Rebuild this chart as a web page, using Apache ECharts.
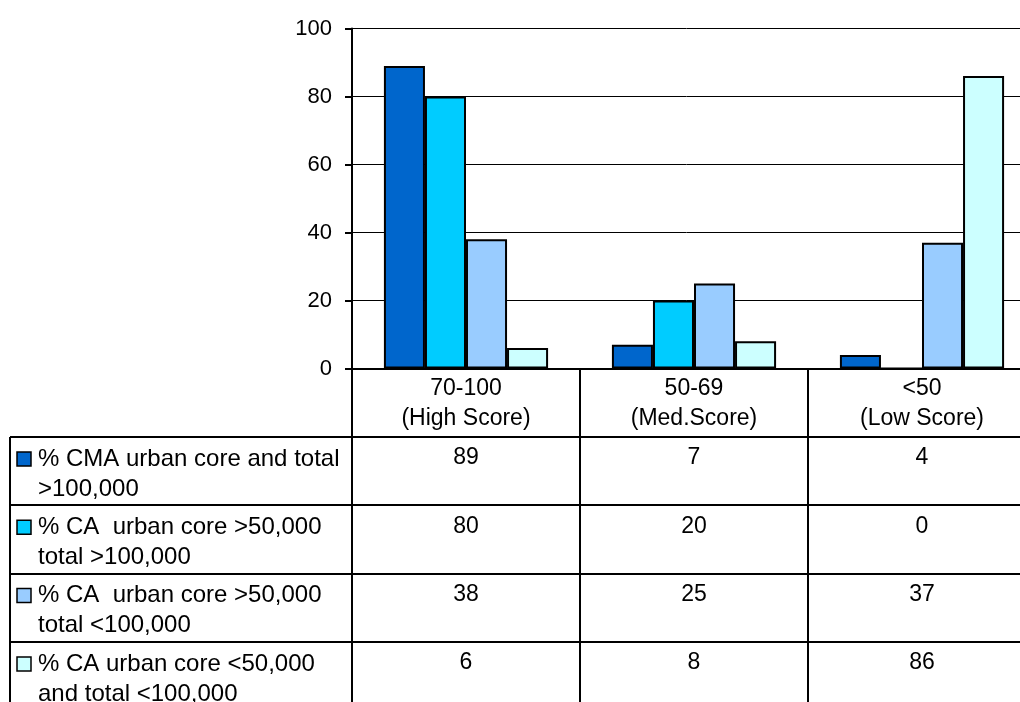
<!DOCTYPE html>
<html>
<head>
<meta charset="utf-8">
<script src="https://cdn.jsdelivr.net/npm/echarts@6/dist/echarts.min.js"></script>
<style>
  html, body { margin: 0; padding: 0; background: #fff; }
  #chart { width: 1020px; height: 702px; }
</style>
</head>
<body>
<div id="chart"></div>
<script>
// Score bands along the category axis
const categories = ['70-100\n(High Score)', '50-69\n(Med.Score)', '<50\n(Low Score)'];

// Series labels (as shown in the data table key column)
const seriesNames = [
  '% CMA urban core and total\n>100,000',
  '% CA  urban core >50,000\ntotal >100,000',
  '% CA  urban core >50,000\ntotal <100,000',
  '% CA urban core <50,000\nand total <100,000'
];

// Percentages per score band
const cmaCoreTotal100k = [89, 7, 4];
const caCore50kTotalOver100k = [80, 20, 0];
const caCore50kTotalUnder100k = [38, 25, 37];
const caCoreUnder50kTotalUnder100k = [6, 8, 86];

const seriesValues = [cmaCoreTotal100k, caCore50kTotalOver100k, caCore50kTotalUnder100k, caCoreUnder50kTotalUnder100k];
const seriesColors = ['#0066CC', '#00CCFF', '#99CCFF', '#CCFFFF'];

// Value-axis tick settings
const yMin = 0, yMax = 100, yStep = 20;

const FONT = '"Liberation Sans", Arial, sans-serif';

const chart = echarts.init(document.getElementById('chart'), null, { renderer: 'canvas' });

const option = {
  backgroundColor: '#ffffff',
  animation: false,
  textStyle: { fontFamily: FONT },
  // the third band runs past the right edge of the page
  grid: { left: 352, top: 28.5, width: 684, height: 340, outerBoundsMode: 'none', containLabel: false },
  xAxis: {
    type: 'category',
    data: categories,
    axisLine: { show: true, lineStyle: { color: '#000', width: 2 } },
    axisTick: { show: true, length: 69, lineStyle: { color: '#000', width: 2 } },
    axisLabel: {
      color: '#000', fontFamily: FONT, fontSize: 23, lineHeight: 30, margin: 5,
      interval: 0
    },
    splitLine: { show: false }
  },
  yAxis: {
    type: 'value',
    min: yMin, max: yMax, interval: yStep,
    axisLine: { show: true, lineStyle: { color: '#000', width: 2 } },
    axisTick: { show: true, length: 7, lineStyle: { color: '#000', width: 2 } },
    axisLabel: { color: '#000', fontFamily: FONT, fontSize: 22, margin: 20 },
    splitLine: { show: true, lineStyle: { color: '#000', width: 1 } }
  },
  series: seriesValues.map((vals, i) => ({
    type: 'bar',
    name: seriesNames[i],
    data: vals,
    barGap: '0%',
    barCategoryGap: '28%',
    itemStyle: { color: seriesColors[i], borderColor: '#000', borderWidth: 2 }
  }))
};

chart.setOption(option);

// Data table under the plot, laid out from the category axis positions
function buildTable() {
  const c0 = chart.convertToPixel({ xAxisIndex: 0 }, 0);
  const c1 = chart.convertToPixel({ xAxisIndex: 0 }, 1);
  const band = c1 - c0;
  const centers = categories.map((_, j) => chart.convertToPixel({ xAxisIndex: 0 }, j));
  const plotLeft = c0 - band / 2;
  const tableLeft = 10;
  const tableRight = 1020;
  const rowTop0 = 437;
  const rowH = 68.3;
  const bottom = 702;
  const line = { stroke: '#000', lineWidth: 2 };
  const els = [];

  // horizontal rules
  for (let r = 0; r < seriesNames.length; r++) {
    const y = Math.round(rowTop0 + r * rowH);
    els.push({ type: 'line', shape: { x1: tableLeft, y1: y, x2: tableRight, y2: y }, style: line, silent: true });
  }
  // vertical rules
  els.push({ type: 'line', shape: { x1: tableLeft, y1: rowTop0, x2: tableLeft, y2: bottom }, style: line, silent: true });
  for (let j = 0; j < categories.length; j++) {
    const x = Math.round(plotLeft + j * band);
    els.push({ type: 'line', shape: { x1: x, y1: rowTop0, x2: x, y2: bottom }, style: line, silent: true });
  }

  // rows: legend key, label, values
  seriesNames.forEach((name, i) => {
    const top = rowTop0 + i * rowH;
    els.push({
      type: 'rect', shape: { x: 17, y: top + 15, width: 14, height: 14 },
      style: { fill: seriesColors[i], stroke: '#000', lineWidth: 1.5 }, silent: true
    });
    els.push({
      type: 'text', x: 38, y: top + 7,
      style: { text: name, fill: '#000', font: '24px ' + FONT, lineHeight: 30, align: 'left', verticalAlign: 'top' },
      silent: true
    });
    seriesValues[i].forEach((v, j) => {
      els.push({
        type: 'text', x: centers[j], y: top + 6,
        style: { text: String(v), fill: '#000', font: '23px ' + FONT, lineHeight: 30, align: 'center', verticalAlign: 'top' },
        silent: true
      });
    });
  });

  chart.setOption({ graphic: els });
}
buildTable();
</script>
</body>
</html>
